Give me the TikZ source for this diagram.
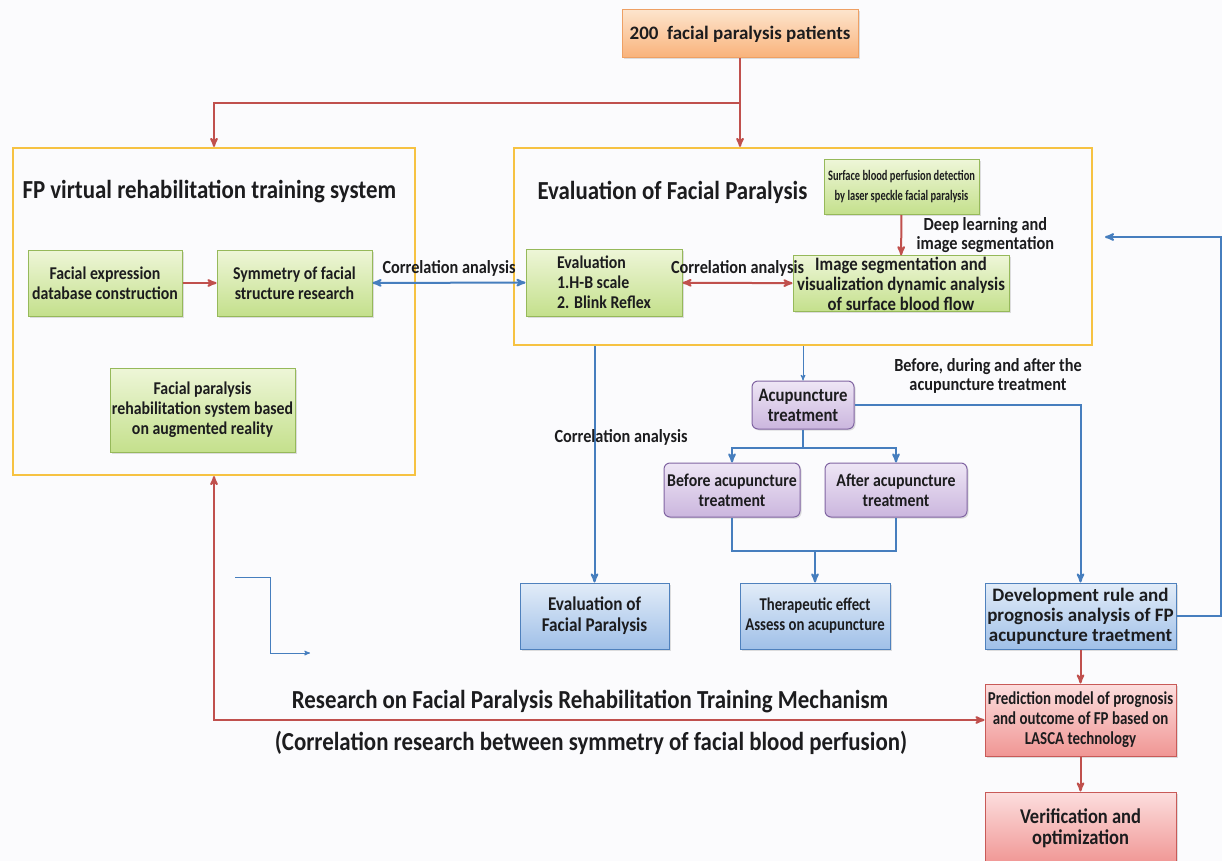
\documentclass[tikz,border=0pt]{standalone}
\usepackage{fontspec}
\setmainfont[FakeStretch=0.88]{Carlito}
\newfontfamily\narrowfont[FakeStretch=0.72]{Carlito}
\newfontfamily\condfont[FakeStretch=0.82]{Carlito}
\newfontfamily\widefont{Carlito}
\usetikzlibrary{arrows,shapes,shadows}

\definecolor{ink}{RGB}{28,28,30}
\definecolor{bgc}{RGB}{251,251,253}
\definecolor{gold}{RGB}{246,194,66}
\definecolor{redl}{RGB}{192,80,77}
\definecolor{bluel}{RGB}{70,126,190}
\definecolor{grnA}{RGB}{238,246,216}
\definecolor{grnB}{RGB}{196,224,140}
\definecolor{grnD}{RGB}{150,185,90}
\definecolor{purA}{RGB}{238,230,245}
\definecolor{purB}{RGB}{203,182,222}
\definecolor{purD}{RGB}{128,100,162}
\definecolor{bluA}{RGB}{226,236,248}
\definecolor{bluB}{RGB}{160,192,232}
\definecolor{bluD}{RGB}{79,129,189}
\definecolor{pnkA}{RGB}{252,222,222}
\definecolor{pnkB}{RGB}{240,150,148}
\definecolor{pnkD}{RGB}{200,90,88}
\definecolor{orgA}{RGB}{253,228,204}
\definecolor{orgB}{RGB}{249,178,122}
\definecolor{orgD}{RGB}{238,160,100}

\begin{document}
\begin{tikzpicture}[x=1pt,y=-1pt,>=stealth',
  every node/.style={text=ink,font=\bfseries\fontsize{18}{20}\selectfont},
  box/.style={draw,line width=1pt,align=center,inner sep=1pt,
    drop shadow={shadow xshift=1.5pt,shadow yshift=-1.5pt,opacity=.25}},
  grn/.style={box,draw=grnD,top color=grnA,bottom color=grnB},
  purp/.style={box,draw=purD,top color=purA,bottom color=purB,rounded corners=6pt},
  blu/.style={box,draw=bluD,top color=bluA,bottom color=bluB},
  pnk/.style={box,draw=pnkD,top color=pnkA,bottom color=pnkB},
  org/.style={box,draw=orgD,top color=orgA,bottom color=orgB},
  frame/.style={draw=gold,line width=2.2pt},
  lbl/.style={font=\bfseries\fontsize{18.5}{19.5}\selectfont,align=center},
  big/.style={font=\bfseries\fontsize{26}{28}\selectfont},
  rarr/.style={draw=redl,line width=2pt},
  barr/.style={draw=bluel,line width=2pt},
  thinb/.style={draw=bluel,line width=1pt}]
  \fill[bgc] (0,0) rectangle (1222,861);
  \useasboundingbox (0,0) rectangle (1222,861);

  \node[org,minimum width=236,minimum height=48,font=\widefont\bfseries\fontsize{19}{21}\selectfont] (top) at (740,34) {200\ \ facial paralysis patients};

  \node[frame,minimum width=402,minimum height=327] (fpv) at (214,311.5) {};
  \node[frame,minimum width=578,minimum height=197] (eva) at (803,246.5) {};
  \node[big,anchor=west] (fpvt) at (19,192) {FP virtual rehabilitation training system};
  \node[big,anchor=west] (evat) at (534,192) {Evaluation of Facial Paralysis};

  \node[grn,minimum width=154,minimum height=66] (fed) at (105,283) {Facial expression\\database construction};
  \node[grn,minimum width=155,minimum height=66] (sym) at (294.5,283) {Symmetry of facial\\structure research};
  \node[grn,minimum width=185,minimum height=84] (far) at (202.5,410) {Facial paralysis\\rehabilitation system based\\on augmented reality};
  \node[grn,minimum width=156,minimum height=67,align=left] (evl) at (604,282.5) {Evaluation\\1.H-B scale\\2. Blink Reflex};
  \node[grn,minimum width=155,minimum height=55,font=\narrowfont\bfseries\fontsize{14.5}{20}\selectfont] (srf) at (901.5,187) {Surface blood perfusion detection\\by laser speckle facial paralysis};
  \node[grn,minimum width=216,minimum height=55,font=\bfseries\fontsize{19}{20}\selectfont] (seg) at (901,283.5) {Image segmentation and\\visualization dynamic analysis\\of surface blood flow};

  \node[purp,minimum width=102,minimum height=48,font=\bfseries\fontsize{19}{20}\selectfont] (acu) at (803,405) {Acupuncture\\treatment};
  \node[purp,minimum width=136,minimum height=54] (bef) at (732,490) {Before acupuncture\\treatment};
  \node[purp,minimum width=142,minimum height=54] (aft) at (896,490) {After acupuncture\\treatment};

  \node[blu,minimum width=149,minimum height=66,font=\bfseries\fontsize{19.5}{21}\selectfont] (efp) at (594.5,616) {Evaluation of\\Facial Paralysis};
  \node[blu,minimum width=150,minimum height=66,font=\condfont\bfseries\fontsize{18}{20}\selectfont] (ther) at (815,616) {Therapeutic effect\\Assess on acupuncture};
  \node[blu,minimum width=191,minimum height=66,font=\widefont\bfseries\fontsize{19}{20}\selectfont] (dev) at (1080.5,616) {Development rule and\\prognosis analysis of FP\\acupuncture traetment};
  \node[pnk,minimum width=191,minimum height=72,font=\condfont\bfseries\fontsize{18.2}{20}\selectfont] (pre) at (1080.5,720) {Prediction model of prognosis\\and outcome of FP based on\\LASCA technology};
  \node[pnk,minimum width=191,minimum height=72,font=\bfseries\fontsize{21}{21}\selectfont] (ver) at (1080.5,828) {Verification and\\optimization};

  \node[big] (rsh) at (590,702) {Research on Facial Paralysis Rehabilitation Training Mechanism};
  \node[big] (crr) at (591,743) {(Correlation research between symmetry of facial blood perfusion)};

  \draw[rarr] (top.south) -- ++(0,45) coordinate (split);
  \draw[rarr,->] (split) -| (fpv.north);
  \draw[rarr,->] (split) -- (split |- eva.north);

  \path[rarr,->] (fed) edge (sym);
  \path[barr,<->] (sym) edge node[lbl,above=2pt] {Correlation analysis} (evl);
  \path[rarr,<->] (evl) edge node[lbl,above=2pt] {Correlation analysis} (seg);
  \path[rarr,->] (srf) edge node[lbl,right=11pt] {Deep learning and\\image segmentation} (seg);

  \draw[barr,->] (eva.south -| efp.north) -- (efp.north);
  \node[lbl] (ca) at (621,437) {Correlation analysis};
  \draw[thinb,->] (eva.south) -- (acu.north);
  \draw[barr,->] (acu.east) -| (dev.north);
  \node[lbl] (bda) at (988,376) {Before, during and after the\\acupuncture treatment};

  \draw[barr] (acu.south) -- ++(0,18) coordinate (ab);
  \draw[barr,->] (ab) -| (bef.north);
  \draw[barr,->] (ab) -| (aft.north);
  \draw[barr] (bef.south) -- ++(0,33) -| (aft.south);
  \coordinate (jn) at (815,550);
  \draw[barr,->] (jn) -- (ther.north);

  \path[rarr,->] (dev) edge (pre);
  \path[rarr,->] (pre) edge (ver);
  \coordinate (back) at (1105,237);
  \draw[barr,->] (dev.east) -- ++(44,0) |- (back);

  \coordinate (l1) at (235,577);
  \coordinate (l2) at (310,653);
  \draw[thinb,->] (l1) -- ++(35,0) |- (l2);

  \draw[rarr,<->] (fpv.south) -- (fpv.south |- pre.west) -- (pre.west);
\end{tikzpicture}
\end{document}
